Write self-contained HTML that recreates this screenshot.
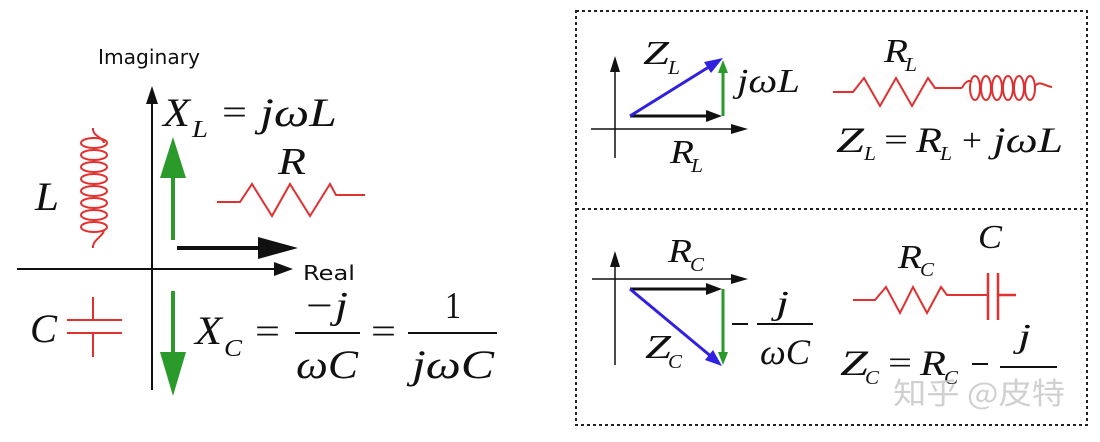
<!DOCTYPE html>
<html><head><meta charset="utf-8"><style>
body{margin:0;background:#fff;}
svg text{font-family:"Liberation Serif",serif;font-style:italic;fill:#111;}
svg text.n{font-style:normal;}
.s{font-family:"DejaVu Sans","Liberation Sans",sans-serif !important;font-style:normal !important;}
</style></head><body>
<svg width="1100" height="437" viewBox="0 0 1100 437" xmlns="http://www.w3.org/2000/svg">
<!-- LEFT -->
<text class="s" x="98" y="64" font-size="20" textLength="102" lengthAdjust="spacingAndGlyphs">Imaginary</text>
<line x1="152" y1="100" x2="152" y2="390" stroke="#111" stroke-width="2"/>
<path d="M152,86 L146,104 L158,104z" fill="#111"/>
<line x1="17" y1="269" x2="280" y2="269" stroke="#111" stroke-width="2"/>
<path d="M293,269 L274,262 L274,276z" fill="#111"/>
<text class="s" x="303" y="280" font-size="20" textLength="52" lengthAdjust="spacingAndGlyphs">Real</text>
<text x="163" y="126" font-size="40" textLength="27" lengthAdjust="spacingAndGlyphs">X</text>
<text x="192" y="137" font-size="24" textLength="16" lengthAdjust="spacingAndGlyphs">L</text>
<text class="n" x="222" y="124" font-size="36" textLength="25" lengthAdjust="spacingAndGlyphs">=</text>
<text x="260" y="126" font-size="40" textLength="77" lengthAdjust="spacingAndGlyphs">jωL</text>
<line x1="173" y1="240" x2="173" y2="175" stroke="#2a9a2a" stroke-width="4"/>
<path d="M173,137 L160,178 L186,178z" fill="#2a9a2a"/>
<line x1="177" y1="248" x2="260" y2="248" stroke="#111" stroke-width="4"/>
<path d="M298,248 L258,237 L258,259z" fill="#111"/>
<text x="278" y="174" font-size="38" textLength="28" lengthAdjust="spacingAndGlyphs">R</text>
<polyline points="217,202 240,202 252,184 272,216 290,184 310,216 330,184 336,195 365,195" fill="none" stroke="#e03030" stroke-width="2"/>
<g fill="none" stroke="#e03030" stroke-width="2">
<path d="M93,128 C92,136 104,138 104,143"/>
<path d="M93,248 C92,240 104,236 104,230"/>
<ellipse cx="94" cy="143" rx="13" ry="5"/><ellipse cx="94" cy="155" rx="13" ry="5"/><ellipse cx="94" cy="167" rx="13" ry="5"/><ellipse cx="94" cy="179" rx="13" ry="5"/><ellipse cx="94" cy="191" rx="13" ry="5"/><ellipse cx="94" cy="203" rx="13" ry="5"/><ellipse cx="94" cy="215" rx="13" ry="5"/><ellipse cx="94" cy="227" rx="13" ry="5"/>
</g>
<text x="35" y="210" font-size="40" textLength="24" lengthAdjust="spacingAndGlyphs">L</text>
<text x="30" y="342" font-size="40" textLength="27" lengthAdjust="spacingAndGlyphs">C</text>
<g stroke="#e03030" stroke-width="2"><line x1="67" y1="320" x2="122" y2="320"/><line x1="67" y1="333" x2="122" y2="333"/><line x1="93" y1="297" x2="93" y2="320"/><line x1="93" y1="333" x2="93" y2="357"/></g>
<line x1="173" y1="291" x2="173" y2="355" stroke="#2a9a2a" stroke-width="4"/>
<path d="M173,396 L160,352 L186,352z" fill="#2a9a2a"/>
<text x="195" y="344" font-size="40" textLength="27" lengthAdjust="spacingAndGlyphs">X</text>
<text x="224" y="356" font-size="24" textLength="18" lengthAdjust="spacingAndGlyphs">C</text>
<text class="n" x="255" y="343" font-size="36" textLength="25" lengthAdjust="spacingAndGlyphs">=</text>
<line x1="295" y1="333" x2="360" y2="333" stroke="#111" stroke-width="2"/>
<text x="303" y="318" font-size="38" textLength="45" lengthAdjust="spacingAndGlyphs">−j</text>
<text x="296" y="378" font-size="40" textLength="62" lengthAdjust="spacingAndGlyphs">ωC</text>
<text class="n" x="371" y="343" font-size="36" textLength="25" lengthAdjust="spacingAndGlyphs">=</text>
<line x1="408" y1="333" x2="497" y2="333" stroke="#111" stroke-width="2"/>
<text class="n" x="445" y="318" font-size="38" textLength="16" lengthAdjust="spacingAndGlyphs">1</text>
<text x="412" y="378" font-size="40" textLength="82" lengthAdjust="spacingAndGlyphs">jωC</text>
<!-- RIGHT BOX -->
<g stroke="#222" stroke-width="2" stroke-dasharray="3,3" fill="none">
<rect x="576" y="11" width="511" height="414"/>
<line x1="576" y1="209" x2="1087" y2="209"/>
</g>
<!-- top panel -->
<line x1="615" y1="70" x2="615" y2="158" stroke="#111" stroke-width="1.5"/><path d="M615,56 L610,72 L620,72z" fill="#111"/>
<line x1="591" y1="129" x2="735" y2="129" stroke="#111" stroke-width="1.5"/><path d="M748,129 L731,124 L731,134z" fill="#111"/>
<line x1="630" y1="116" x2="710" y2="116" stroke="#111" stroke-width="3"/><path d="M722,116 L706,110 L706,122z" fill="#111"/>
<line x1="630" y1="116" x2="712" y2="65" stroke="#3020e0" stroke-width="3"/><path d="M723,58 L704,62 L711,73z" fill="#3020e0"/>
<line x1="723" y1="116" x2="723" y2="72" stroke="#2a9a2a" stroke-width="3"/><path d="M723,60 L718,73 L728,73z" fill="#2a9a2a"/>
<text x="643" y="64" font-size="34" textLength="26" lengthAdjust="spacingAndGlyphs">Z</text>
<text x="668" y="74" font-size="20" textLength="12" lengthAdjust="spacingAndGlyphs">L</text>
<text x="737" y="92" font-size="34" textLength="63" lengthAdjust="spacingAndGlyphs">jωL</text>
<text x="670" y="163" font-size="34" textLength="24" lengthAdjust="spacingAndGlyphs">R</text>
<text x="691" y="172" font-size="20" textLength="12" lengthAdjust="spacingAndGlyphs">L</text>
<text x="884" y="62" font-size="34" textLength="24" lengthAdjust="spacingAndGlyphs">R</text>
<text x="905" y="71" font-size="20" textLength="12" lengthAdjust="spacingAndGlyphs">L</text>
<polyline points="833,92 853,92 864,78 880,106 896,78 912,106 928,78 935,88 962,88" fill="none" stroke="#e03030" stroke-width="2"/>
<g fill="none" stroke="#e03030" stroke-width="2"><path d="M962,88 C966,80 970,80 972,82"/><ellipse cx="975" cy="88" rx="5" ry="12"/><ellipse cx="986" cy="88" rx="5" ry="12"/><ellipse cx="997" cy="88" rx="5" ry="12"/><ellipse cx="1008" cy="88" rx="5" ry="12"/><ellipse cx="1019" cy="88" rx="5" ry="12"/><ellipse cx="1030" cy="88" rx="5" ry="12"/><path d="M1035,86 C1040,80 1044,86 1052,87"/></g>
<text x="836" y="152" font-size="36" textLength="28" lengthAdjust="spacingAndGlyphs">Z</text>
<text x="864" y="160" font-size="20" textLength="12" lengthAdjust="spacingAndGlyphs">L</text>
<text class="n" x="884" y="150" font-size="32" textLength="24" lengthAdjust="spacingAndGlyphs">=</text>
<text x="916" y="152" font-size="36" textLength="26" lengthAdjust="spacingAndGlyphs">R</text>
<text x="940" y="160" font-size="20" textLength="12" lengthAdjust="spacingAndGlyphs">L</text>
<text class="n" x="962" y="151" font-size="32" textLength="20" lengthAdjust="spacingAndGlyphs">+</text>
<text x="993" y="152" font-size="36" textLength="70" lengthAdjust="spacingAndGlyphs">jωL</text>
<!-- bottom panel -->
<line x1="615" y1="265" x2="615" y2="365" stroke="#111" stroke-width="1.5"/><path d="M615,251 L610,267 L620,267z" fill="#111"/>
<line x1="592" y1="279" x2="735" y2="279" stroke="#111" stroke-width="1.5"/><path d="M748,279 L731,274 L731,284z" fill="#111"/>
<line x1="630" y1="289" x2="710" y2="289" stroke="#111" stroke-width="3"/><path d="M722,289 L706,283 L706,295z" fill="#111"/>
<line x1="630" y1="289" x2="713" y2="358" stroke="#3020e0" stroke-width="3"/><path d="M722,366 L713,350 L705,360z" fill="#3020e0"/>
<line x1="723" y1="289" x2="723" y2="352" stroke="#2a9a2a" stroke-width="3"/><path d="M723,365 L718,352 L728,352z" fill="#2a9a2a"/>
<text x="668" y="262" font-size="34" textLength="24" lengthAdjust="spacingAndGlyphs">R</text>
<text x="690" y="271" font-size="20" textLength="14" lengthAdjust="spacingAndGlyphs">C</text>
<text x="645" y="358" font-size="34" textLength="26" lengthAdjust="spacingAndGlyphs">Z</text>
<text x="668" y="368" font-size="20" textLength="14" lengthAdjust="spacingAndGlyphs">C</text>
<line x1="732" y1="324" x2="748" y2="324" stroke="#111" stroke-width="2"/>
<line x1="757" y1="324" x2="813" y2="324" stroke="#111" stroke-width="2"/>
<text x="776" y="314" font-size="34" textLength="13" lengthAdjust="spacingAndGlyphs">j</text>
<text x="760" y="364" font-size="36" textLength="50" lengthAdjust="spacingAndGlyphs">ωC</text>
<text x="898" y="268" font-size="34" textLength="24" lengthAdjust="spacingAndGlyphs">R</text>
<text x="920" y="276" font-size="20" textLength="14" lengthAdjust="spacingAndGlyphs">C</text>
<text x="978" y="248" font-size="34" textLength="24" lengthAdjust="spacingAndGlyphs">C</text>
<polyline points="853,300 875,300 886,287 900,313 913,287 927,313 941,287 947,295 988,295" fill="none" stroke="#e03030" stroke-width="2"/>
<g stroke="#e03030" stroke-width="2.5"><line x1="988" y1="273" x2="988" y2="320"/><line x1="998" y1="273" x2="998" y2="320"/><line x1="998" y1="295" x2="1016" y2="295"/></g>
<text x="840" y="375" font-size="36" textLength="28" lengthAdjust="spacingAndGlyphs">Z</text>
<text x="865" y="384" font-size="20" textLength="14" lengthAdjust="spacingAndGlyphs">C</text>
<text class="n" x="888" y="373" font-size="32" textLength="24" lengthAdjust="spacingAndGlyphs">=</text>
<text x="920" y="375" font-size="36" textLength="26" lengthAdjust="spacingAndGlyphs">R</text>
<text x="944" y="384" font-size="20" textLength="14" lengthAdjust="spacingAndGlyphs">C</text>
<line x1="972" y1="364" x2="988" y2="364" stroke="#111" stroke-width="2"/>
<line x1="1000" y1="367" x2="1057" y2="367" stroke="#111" stroke-width="2"/>
<text x="1018" y="347" font-size="34" textLength="13" lengthAdjust="spacingAndGlyphs">j</text>
<text class="n" x="893" y="404" font-size="30" textLength="172" lengthAdjust="spacingAndGlyphs" style="font-family:'Noto Sans CJK SC',sans-serif;fill:#ccc;opacity:0.9">知乎 @皮特</text>
</svg>
</body></html>
